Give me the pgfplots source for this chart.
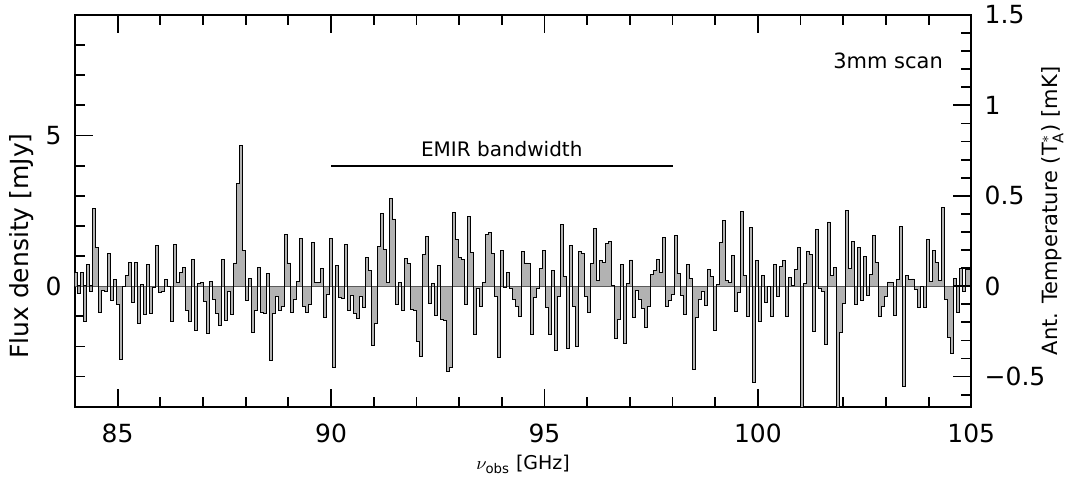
\documentclass[border=0pt]{standalone}
\usepackage{fontspec}
\setmainfont{DejaVu Sans}
\usepackage{amsmath}
\usepackage{pgfplots}
\usepackage{pgfplotstable}
\pgfplotsset{compat=1.18}

% channel fluxes in mJy, 299 channels of 0.070234 GHz starting at 84 GHz
\pgfplotstableread[row sep=\\]{
y\\
0.44\\ -0.24\\ 0.46\\ -1.17\\ 0.73\\ -0.16\\ 2.58\\ 1.28\\ -0.88\\ -0.13\\
-0.19\\ 1.09\\ -0.48\\ 0.22\\ -0.59\\ -2.42\\ -0.02\\ 0.34\\ 0.80\\ -0.54\\
0.80\\ -1.25\\ 0.05\\ -0.93\\ 0.73\\ -0.89\\ -0.05\\ 1.34\\ -0.22\\ -0.19\\
0.21\\ -0.02\\ -1.17\\ 1.38\\ 0.13\\ 0.47\\ 0.63\\ -0.79\\ -1.18\\ 0.89\\
-1.46\\ 0.08\\ 0.12\\ -0.50\\ -1.57\\ 0.15\\ -0.45\\ -0.91\\ -1.29\\ 0.89\\
-1.15\\ -0.18\\ -0.95\\ 0.77\\ 3.40\\ 4.68\\ 1.18\\ -0.46\\ 0.26\\ -1.55\\
-0.79\\ 0.63\\ -0.88\\ -0.91\\ 0.43\\ -2.47\\ -0.91\\ -0.33\\ -0.80\\ -0.68\\
1.73\\ 0.77\\ -0.88\\ -0.44\\ 0.16\\ 1.59\\ -0.68\\ -0.86\\ -0.59\\ 1.44\\
0.11\\ 0.12\\ 0.59\\ -1.04\\ -0.29\\ 1.59\\ -2.69\\ 0.70\\ -0.38\\ -0.42\\
1.38\\ -0.82\\ -0.31\\ -0.89\\ -1.06\\ -0.33\\ -0.69\\ 0.95\\ 0.53\\ -1.97\\
-1.24\\ 1.32\\ 2.40\\ 1.22\\ 0.13\\ 2.91\\ 2.23\\ -0.60\\ 0.11\\ -0.79\\
0.92\\ 0.75\\ -0.77\\ -0.79\\ -1.84\\ -2.34\\ 1.06\\ 1.66\\ -0.57\\ 0.10\\
-0.96\\ 0.69\\ -1.11\\ -1.15\\ -2.82\\ -2.70\\ 2.45\\ 1.56\\ 0.95\\ 0.88\\
-0.59\\ 2.30\\ 1.12\\ -1.61\\ -0.09\\ -0.68\\ 0.12\\ 1.73\\ 1.79\\ 1.07\\
-0.33\\ -2.37\\ 1.18\\ -0.05\\ 0.45\\ -0.09\\ -0.44\\ -0.68\\ -0.99\\ 1.15\\
0.77\\ 0.75\\ -1.59\\ -0.37\\ -0.08\\ 0.58\\ 1.20\\ -0.72\\ -1.59\\ 0.53\\
-2.14\\ -0.34\\ 2.06\\ 0.31\\ -2.08\\ 1.35\\ -0.66\\ -2.00\\ 1.15\\ 1.07\\
-0.33\\ -0.88\\ 0.75\\ 1.90\\ 0.19\\ 0.86\\ 0.80\\ 1.43\\ 1.47\\ 0.02\\
-1.73\\ -1.10\\ 0.72\\ -1.89\\ 0.08\\ 0.87\\ -1.04\\ -0.14\\ -0.45\\ -0.75\\
-1.37\\ -0.66\\ 0.38\\ 0.53\\ 0.88\\ 0.44\\ 1.61\\ -0.66\\ -0.47\\ -0.27\\
1.69\\ 0.43\\ -0.31\\ -0.95\\ 0.73\\ 0.27\\ -2.76\\ -1.04\\ -0.44\\ -0.16\\
-0.64\\ 0.57\\ 0.33\\ -1.48\\ 0.05\\ 1.45\\ 2.17\\ 0.19\\ 0.11\\ 1.02\\
-0.84\\ -0.20\\ 2.47\\ 0.37\\ -1.01\\ 1.95\\ -3.20\\ 0.86\\ -1.17\\ 0.36\\
-0.53\\ -0.02\\ -1.01\\ 0.73\\ -0.33\\ 0.66\\ 0.86\\ -1.01\\ 0.30\\ 0.03\\
0.55\\ 1.29\\ -4.50\\ 0.08\\ 1.16\\ 1.06\\ -1.50\\ 1.87\\ -0.08\\ -0.16\\
-1.92\\ 2.13\\ 0.35\\ 0.61\\ -4.50\\ -1.52\\ -0.57\\ 2.50\\ 0.58\\ 1.47\\
-0.60\\ 1.28\\ -0.47\\ 1.00\\ -0.31\\ 0.38\\ 1.67\\ 0.79\\ -0.99\\ -0.66\\
-0.35\\ 0.14\\ 0.11\\ -0.96\\ 0.22\\ 1.98\\ -3.34\\ 0.36\\ 0.22\\ 0.24\\
-0.11\\ -0.71\\ 0.00\\ -0.69\\ 1.55\\ 0.16\\ 1.17\\ 0.80\\ 0.20\\ 2.62\\
-0.44\\ -1.70\\ -2.23\\ 0.27\\ -0.88\\ 0.60\\ -0.16\\ 0.55\\ 0.55\\ 0.55\\
}\spec

\begin{document}
\begin{tikzpicture}
\pgfplotsset{every axis/.append style={scale only axis,width=448.5pt,height=196pt,
  xmin=84,xmax=105,tick align=inside,major tick length=9pt,minor tick length=5pt,
  tick style={black,line width=0.9pt},axis line style={line width=1pt},
  /pgf/number format/assume math mode=true,
  tick label style={font=\fontsize{12.5}{14}\selectfont}}}
\begin{axis}[name=main,ymin=-4,ymax=9,
  xtick={85,90,95,100,105},minor xtick={84,...,105},
  ytick={0,5},minor ytick={-4,...,9},ytick pos=left,
  xticklabel style={anchor=center,yshift=-13.5pt},
  yticklabel style={anchor=east,inner sep=0pt,xshift=-6.5pt},
  xlabel={$\nu_\text{obs}$ [GHz]},
  xlabel style={at={(axis description cs:0.5,0)},anchor=center,yshift=-29pt,font=\fontsize{9.5}{11}\selectfont},
  ylabel={Flux density [mJy]},
  ylabel style={at={(axis description cs:-0.059,0.41)},anchor=center,font=\fontsize{12.5}{14}\selectfont}]
\addplot[const plot,fill=gray!60,draw=none] table[x expr=84+0.070234*\coordindex,y=y]{\spec} \closedcycle;
\draw[black!65,line width=0.6pt] (axis cs:84,0) -- (axis cs:105,0);
\addplot[const plot,black,line width=0.45pt] table[x expr=84+0.070234*\coordindex,y=y]{\spec};
\draw[line width=1pt] (axis cs:90,4) -- (axis cs:98,4);
\node[font=\fontsize{10}{12}\selectfont] at (axis cs:94,4.55) {EMIR bandwidth};
\node[anchor=east,font=\fontsize{10.5}{12}\selectfont] at (axis cs:104.5,7.48) {3mm scan};
\end{axis}
\begin{axis}[ymin=-0.666667,ymax=1.5,axis x line=none,axis y line*=right,
  ytick={-0.5,0,0.5,1,1.5},yticklabels={−0.5,0,0.5,1,1.5},
  minor ytick={-0.6,-0.5,...,1.5},
  yticklabel style={anchor=west,inner sep=0pt,xshift=6.5pt},
  ylabel={Ant. Temperature (T$_\text{A}^*$) [mK]},
  ylabel style={at={(axis description cs:1.0903,0.5)},anchor=center,font=\fontsize{10.5}{12}\selectfont}]
\end{axis}
\path ([xshift=-37.5pt,yshift=-36pt]main.south west) rectangle ([xshift=49pt,yshift=7.5pt]main.north east);
\end{tikzpicture}
\end{document}
